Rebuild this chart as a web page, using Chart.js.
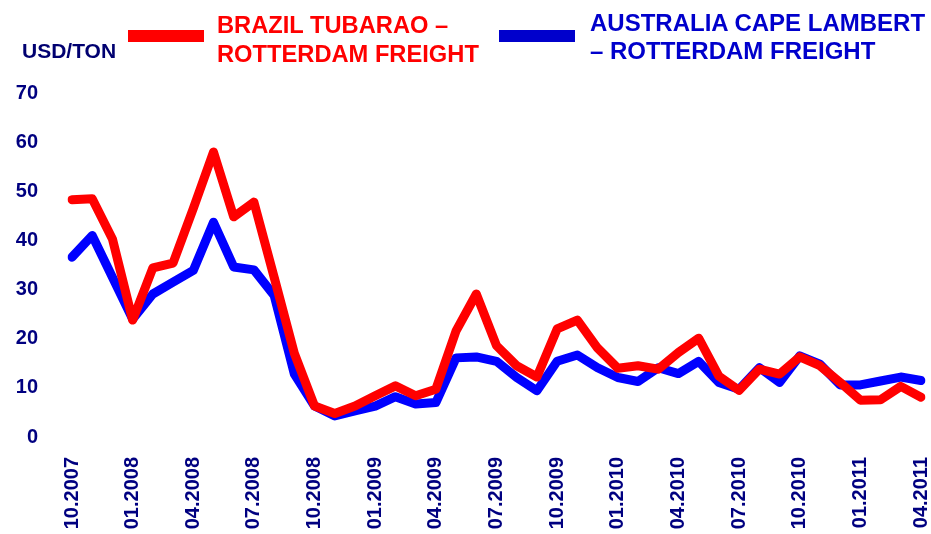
<!DOCTYPE html>
<html>
<head>
<meta charset="utf-8">
<script src="https://cdn.jsdelivr.net/npm/chart.js"></script>
<style>
  body { margin: 0; background: #fff; }
  #wrap { position: relative; width: 931px; height: 534px; }
  .txt { position: absolute; font-family: "Liberation Sans", Arial, sans-serif; font-weight: bold; white-space: nowrap; }
  .key { position: absolute; height: 12px; width: 76px; }
</style>
</head>
<body>
<div id="wrap">
  <canvas id="freightChart" width="931" height="534"></canvas>
  <div class="txt" style="left:22px; top:39px; font-size:21px; line-height:24px; color:#000070;">USD/TON</div>
  <div class="key" style="left:128px; top:30px; background:#ff0000;"></div>
  <div class="txt" style="left:217px; top:11px; font-size:23.7px; line-height:29px; color:#ff0000;">BRAZIL TUBARAO –<br>ROTTERDAM FREIGHT</div>
  <div class="key" style="left:499px; top:30px; background:#0000cc;"></div>
  <div class="txt" style="left:590px; top:9px; font-size:24px; line-height:28px; color:#0000cc;">AUSTRALIA CAPE LAMBERT<br>– ROTTERDAM FREIGHT</div>
</div>
<script>
// meses (10.2007 a 04.2011)
const months = [
  '10.2007', '11.2007', '12.2007', '01.2008', '02.2008', '03.2008', '04.2008', '05.2008', '06.2008',
  '07.2008', '08.2008', '09.2008', '10.2008', '11.2008', '12.2008', '01.2009', '02.2009', '03.2009',
  '04.2009', '05.2009', '06.2009', '07.2009', '08.2009', '09.2009', '10.2009', '11.2009', '12.2009',
  '01.2010', '02.2010', '03.2010', '04.2010', '05.2010', '06.2010', '07.2010', '08.2010', '09.2010',
  '10.2010', '11.2010', '12.2010', '01.2011', '02.2011', '03.2011', '04.2011'
];

// frete Brasil Tubarao - Rotterdam (USD/ton)
const brazilFreight = [
  48.3, 48.5, 40.3, 23.8, 34.4, 35.4, 46.5, 58.0, 44.8,
  47.8, 32.5, 17.0, 6.3, 4.8, 6.3, 8.4, 10.4, 8.4,
  9.7, 21.6, 29.1, 18.6, 14.5, 12.2, 22.0, 23.8, 18.1,
  14.0, 14.5, 13.8, 17.2, 20.1, 12.4, 9.5, 13.8, 12.8,
  16.3, 14.5, 11.1, 7.5, 7.6, 10.3, 8.1
];

// frete Australia Cape Lambert - Rotterdam (USD/ton)
const australiaFreight = [
  36.6, 41.0, 32.5, 24.0, 29.1, 31.5, 33.9, 43.7, 34.6,
  34.0, 28.8, 12.8, 6.3, 4.3, 5.3, 6.3, 8.2, 6.7,
  7.0, 16.1, 16.3, 15.4, 12.1, 9.4, 15.4, 16.7, 14.1,
  12.1, 11.3, 14.1, 12.9, 15.4, 11.1, 9.7, 14.1, 11.1,
  16.5, 14.8, 10.6, 10.6, 11.4, 12.2, 11.5
];

// ticks do eixo Y
const yMin = 0;
const yMax = 70;
const yStep = 10;

const navy = '#000080';
const tickFont = { family: '"Liberation Sans", Arial, sans-serif', weight: 'bold', size: 20 };

const ctx = document.getElementById('freightChart').getContext('2d');

new Chart(ctx, {
    type: 'line',
    data: {
        labels: months,
        datasets: [
            {
                label: 'BRAZIL TUBARAO – ROTTERDAM FREIGHT',
                data: brazilFreight,
                borderColor: '#ff0000',
                backgroundColor: '#ff0000',
                borderWidth: 9,
                borderJoinStyle: 'round',
                borderCapStyle: 'round',
                pointRadius: 0,
                tension: 0
            },
            {
                label: 'AUSTRALIA CAPE LAMBERT – ROTTERDAM FREIGHT',
                data: australiaFreight,
                borderColor: '#0000ff',
                backgroundColor: '#0000ff',
                borderWidth: 9,
                borderJoinStyle: 'round',
                borderCapStyle: 'round',
                pointRadius: 0,
                tension: 0
            }
        ]
    },
    options: {
        responsive: false,
        animation: false,
        layout: { padding: { top: 93, right: 10, left: 0, bottom: 0 } },
        plugins: {
            legend: { display: false },
            tooltip: { enabled: false }
        },
        scales: {
            x: {
                offset: false,
                border: { display: false },
                grid: { display: false, drawTicks: true, tickLength: 20 },
                afterFit: function(scale) {
                    scale.height = 97;
                    scale.paddingLeft = 0;
                    scale.paddingRight = 0;
                },
                ticks: {
                    autoSkip: false,
                    maxRotation: 90,
                    minRotation: 90,
                    padding: 0,
                    color: navy,
                    font: tickFont,
                    callback: function(value, index) {
                        return index % 3 === 0 ? months[index] : null;
                    }
                }
            },
            y: {
                min: yMin,
                max: yMax,
                border: { display: false },
                grid: { display: false, drawTicks: false },
                afterFit: function(scale) { scale.width = 72; },
                ticks: {
                    stepSize: yStep,
                    padding: 34,
                    color: navy,
                    font: tickFont
                }
            }
        }
    }
});
</script>
</body>
</html>
